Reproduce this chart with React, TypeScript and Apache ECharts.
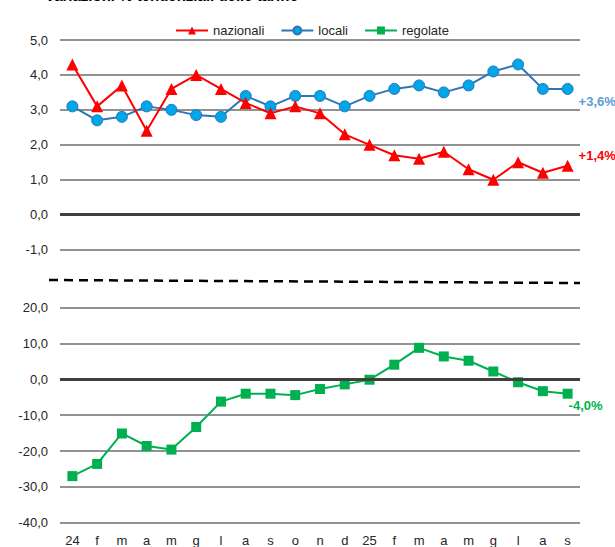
import React, { useEffect, useRef } from "react";
import * as echarts from "echarts";

const categories = ["24", "f", "m", "a", "m", "g", "l", "a", "s", "o", "n", "d", "25", "f", "m", "a", "m", "g", "l", "a", "s"];
const nazionali = [4.3, 3.1, 3.7, 2.4, 3.6, 4.0, 3.6, 3.2, 2.9, 3.1, 2.9, 2.3, 2.0, 1.7, 1.6, 1.8, 1.3, 1.0, 1.5, 1.2, 1.4];
const locali = [3.1, 2.7, 2.8, 3.1, 3.0, 2.85, 2.8, 3.4, 3.1, 3.4, 3.4, 3.1, 3.4, 3.6, 3.7, 3.5, 3.7, 4.1, 4.3, 3.6, 3.6];
const regolate = [-27.0, -23.6, -15.1, -18.6, -19.6, -13.3, -6.2, -4.0, -4.0, -4.4, -2.7, -1.4, -0.1, 4.1, 8.8, 6.4, 5.2, 2.2, -0.8, -3.3, -4.0];
const endLabels = { nazionali: "+1,4%", locali: "+3,6%", regolate: "-4,0%" };
const title = "Variazioni % tendenziali delle tariffe";

const FONT = "Liberation Sans, Arial, sans-serif";
const RED = "#ff0000";
const BLUE_LINE = "#2e75b6";
const BLUE_FILL = "#00a7e8";
const GREEN = "#00b050";

function withEndLabel(values: number[], text: string, color: string, offset: number[]) {
  return values.map((v, i) =>
    i === values.length - 1
      ? {
          value: v,
          label: {
            show: true,
            position: "right",
            offset,
            formatter: text,
            color,
            fontWeight: "bold",
            fontSize: 13,
            fontFamily: FONT,
          },
        }
      : v
  );
}

const zeroLine = {
  silent: true,
  symbol: "none",
  label: { show: false },
  lineStyle: { color: "#404040", width: 3, type: "solid" },
  data: [{ yAxis: 0 }],
};

export default function App() {
  const ref = useRef<HTMLDivElement>(null);
  useEffect(() => {
    if (!ref.current) return;
    const chart = echarts.init(ref.current, null, { renderer: "svg" });
    const fmt = (v: number) => v.toFixed(1).replace(".", ",");
    const yLabel = { fontSize: 13, color: "#262626", fontFamily: FONT, margin: 12, formatter: fmt };
    const split = { show: true, lineStyle: { color: "#6e6e6e", width: 1.5 } };
    chart.setOption({
      animation: false,
      backgroundColor: "#ffffff",
      textStyle: { fontFamily: FONT },
      legend: {
        left: 170,
        top: 19,
        itemWidth: 32,
        itemHeight: 10,
        itemGap: 16,
        textStyle: { fontSize: 13, color: "#262626", fontFamily: FONT },
        data: ["nazionali", "locali", "regolate"],
      },
      grid: [
        { left: 60, right: 35, top: 40, height: 209.6 },
        { left: 60, right: 35, top: 307.7, height: 215 },
      ],
      xAxis: [
        {
          type: "category",
          gridIndex: 0,
          data: categories,
          boundaryGap: true,
          axisLine: { show: false },
          axisTick: { show: false },
          axisLabel: { show: false },
        },
        {
          type: "category",
          gridIndex: 1,
          data: categories,
          boundaryGap: true,
          axisLine: { show: false },
          axisTick: { show: false },
          axisLabel: { show: true, interval: 0, fontSize: 13, color: "#262626", fontFamily: FONT, margin: 11 },
        },
      ],
      yAxis: [
        {
          type: "value",
          gridIndex: 0,
          min: -1,
          max: 5,
          interval: 1,
          axisLine: { show: false },
          axisTick: { show: false },
          axisLabel: yLabel,
          splitLine: split,
        },
        {
          type: "value",
          gridIndex: 1,
          min: -40,
          max: 20,
          interval: 10,
          axisLine: { show: false },
          axisTick: { show: false },
          axisLabel: yLabel,
          splitLine: split,
        },
      ],
      series: [
        {
          name: "nazionali",
          type: "line",
          xAxisIndex: 0,
          yAxisIndex: 0,
          data: withEndLabel(nazionali, endLabels.nazionali, RED, [0, -10]),
          symbol: "triangle",
          symbolSize: 12,
          lineStyle: { color: RED, width: 2 },
          itemStyle: { color: RED },
          markLine: zeroLine,
          z: 3,
        },
        {
          name: "locali",
          type: "line",
          xAxisIndex: 0,
          yAxisIndex: 0,
          data: withEndLabel(locali, endLabels.locali, "#5b9bd5", [0, 13]),
          symbol: "circle",
          symbolSize: 11,
          lineStyle: { color: BLUE_LINE, width: 2 },
          itemStyle: { color: BLUE_FILL, borderColor: BLUE_LINE, borderWidth: 1 },
          z: 2,
        },
        {
          name: "regolate",
          type: "line",
          xAxisIndex: 1,
          yAxisIndex: 1,
          data: withEndLabel(regolate, endLabels.regolate, GREEN, [-9, 12]),
          symbol: "rect",
          symbolSize: 10,
          lineStyle: { color: GREEN, width: 2 },
          itemStyle: { color: GREEN },
          markLine: zeroLine,
          z: 3,
        },
      ],
      graphic: [
        {
          type: "text",
          left: 45,
          top: -12,
          style: { text: title, font: "bold 15px " + FONT, fill: "#000" },
        },
        {
          type: "line",
          shape: { x1: 49, y1: 280, x2: 580, y2: 283 },
          style: { stroke: "#000", lineWidth: 2.5, lineDash: [9, 6] },
        },
      ],
    });
    return () => chart.dispose();
  }, []);
  return <div ref={ref} style={{ position: "absolute", left: 0, top: 0, width: 615, height: 547 }} />;
}
